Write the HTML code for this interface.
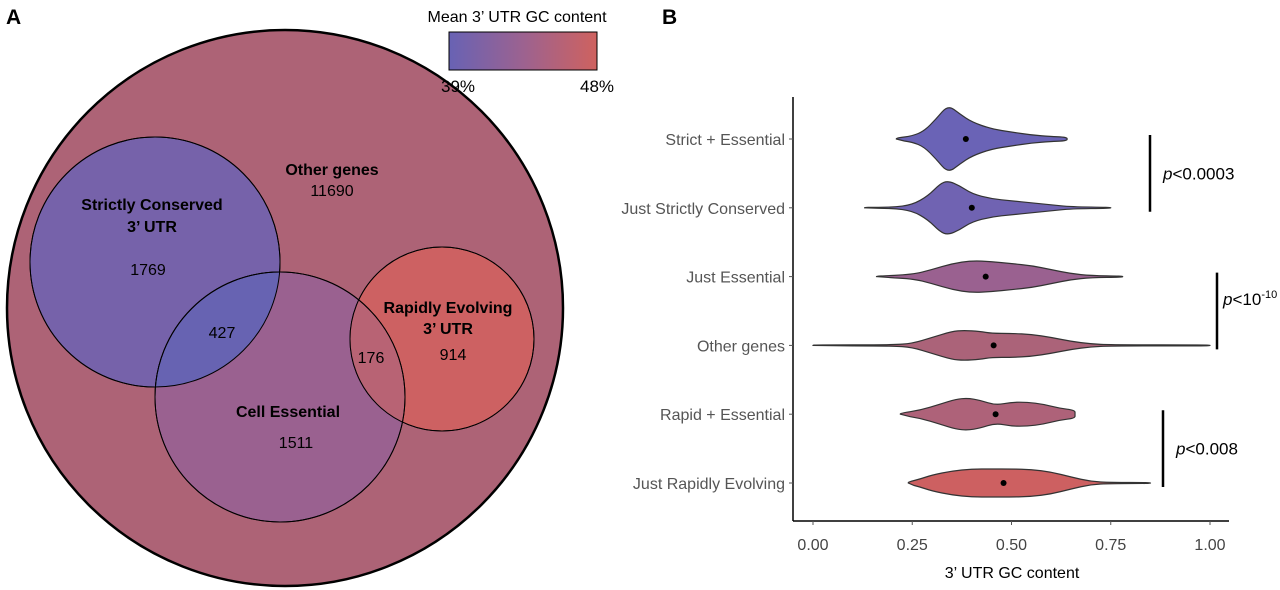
<!DOCTYPE html>
<html><head><meta charset="utf-8"><style>
body{margin:0;background:#fff;}
svg{display:block;font-family:"Liberation Sans",Arial,sans-serif;}
</style></head><body>
<svg id="fig" width="1280" height="590" viewBox="0 0 1280 590">
<defs>
<linearGradient id="grad" x1="0" x2="1" y1="0" y2="0"><stop offset="0" stop-color="#6862b4"/><stop offset="0.5" stop-color="#9c6290"/><stop offset="1" stop-color="#cf625f"/></linearGradient>
<clipPath id="cStrict"><circle cx="155" cy="262" r="125"/></clipPath>
<clipPath id="cRapid"><circle cx="442" cy="339" r="92"/></clipPath>
</defs>
<g>
<text x="6" y="24" font-size="21" font-weight="bold">A</text>
<circle cx="285" cy="308" r="278" fill="#ad6376" stroke="#000" stroke-width="2.5"/>
<circle cx="155" cy="262" r="125" fill="#7662aa" stroke="#000" stroke-width="1"/>
<circle cx="280" cy="397" r="125" fill="#9a6190" stroke="#000" stroke-width="1"/>
<circle cx="442" cy="339" r="92" fill="#cd6162" stroke="#000" stroke-width="1"/>
<circle cx="280" cy="397" r="125" fill="#6763b2" clip-path="url(#cStrict)" stroke="#000" stroke-width="1"/>
<circle cx="280" cy="397" r="125" fill="#b86374" clip-path="url(#cRapid)" stroke="#000" stroke-width="1"/>
<circle cx="155" cy="262" r="125" fill="none" stroke="#000" stroke-width="1"/>
<circle cx="442" cy="339" r="92" fill="none" stroke="#000" stroke-width="1"/>
<circle cx="280" cy="397" r="125" fill="none" stroke="#000" stroke-width="1"/>
<g font-size="16" text-anchor="middle">
<text x="332" y="175" font-weight="bold">Other genes</text>
<text x="332" y="196">11690</text>
<text x="152" y="210" font-weight="bold">Strictly Conserved</text>
<text x="152" y="232" font-weight="bold">3’ UTR</text>
<text x="148" y="275">1769</text>
<text x="222" y="338">427</text>
<text x="448" y="313" font-weight="bold">Rapidly Evolving</text>
<text x="448" y="334" font-weight="bold">3’ UTR</text>
<text x="453" y="360">914</text>
<text x="371" y="363">176</text>
<text x="288" y="417" font-weight="bold">Cell Essential</text>
<text x="296" y="448">1511</text>
</g>
<g>
<text x="517" y="22" font-size="16" text-anchor="middle">Mean 3’ UTR GC content</text>
<rect x="449" y="32" width="148" height="38" fill="url(#grad)" stroke="#000" stroke-width="1"/>
<text x="458" y="92" font-size="17" text-anchor="middle">39%</text>
<text x="597" y="92" font-size="17" text-anchor="middle">48%</text>
</g>
</g>
<g id="panelB">
<text x="662" y="24" font-size="21" font-weight="bold">B</text>
</g>
</svg>
<script>
const categories = ["Strict + Essential","Just Strictly Conserved","Just Essential","Other genes","Rapid + Essential","Just Rapidly Evolving"];
const means = [0.385,0.40,0.435,0.455,0.46,0.48];
const colors = ["#6a63b6","#7063b2","#9a6190","#ab6379","#ae6279","#cd6061"];
const densX = [
 [0.21,0.25,0.28,0.31,0.34,0.37,0.40,0.45,0.50,0.55,0.60,0.63,0.64],
 [0.13,0.20,0.25,0.29,0.32,0.34,0.37,0.40,0.45,0.50,0.55,0.60,0.65,0.75],
 [0.16,0.25,0.30,0.35,0.40,0.45,0.50,0.55,0.60,0.65,0.70,0.78],
 [0.00,0.20,0.25,0.30,0.35,0.38,0.42,0.45,0.50,0.55,0.60,0.65,0.70,0.75,1.00],
 [0.22,0.27,0.32,0.36,0.39,0.42,0.46,0.50,0.54,0.58,0.62,0.66],
 [0.24,0.27,0.30,0.35,0.40,0.45,0.50,0.55,0.60,0.65,0.70,0.75,0.85]
];
const densY = [
 [1,3,8,20,34,25,17,10,7,4,2.5,2,1],
 [0.5,0.5,3,12,24,27,22,14,9,7,5,3,1,0.5],
 [0.5,2,7,13,16,15,13,11,7,3,1,0.5],
 [0.5,0.5,2,8,14,15,14,12,12,11,8,4,1.5,0.5,0.5],
 [1,4,10,15,16,14,9,12,12,10,6,4],
 [1,4,8,12,14,14,14,13.5,11,6,1.5,0.5,0.5]
];
const ticks = [0,0.25,0.5,0.75,1.0];
const tickLabels = ["0.00","0.25","0.50","0.75","1.00"];
const pvals = [{from:0,to:1,x:1150,label:"0.0003",sup:""},{from:2,to:3,x:1217,label:"10",sup:"-10"},{from:4,to:5,x:1163,label:"0.008",sup:""}];

const NS="http://www.w3.org/2000/svg";
const g=document.getElementById('panelB');
const xs=v=>813+v*397;
const ys=i=>139+i*68.8;
function mk(t,a,p){const e=document.createElementNS(NS,t);for(const k in a)e.setAttribute(k,a[k]);(p||g).appendChild(e);return e;}
// axes
const ax=mk('line',{x1:793,y1:97,x2:793,y2:521,stroke:'#000','stroke-width':1.5});


const bx=mk('line',{x1:793,y1:521,x2:1229,y2:521,stroke:'#000','stroke-width':1.5});


ticks.forEach((t,i)=>{
 mk('line',{x1:xs(t),y1:521,x2:xs(t),y2:525,stroke:'#555'});
 const tl=mk('text',{x:xs(t),y:550,'font-size':16,'text-anchor':'middle',fill:'#444'});
 tl.textContent=tickLabels[i];
 
 
});
const xt=mk('text',{x:1012,y:578,'font-size':16,'text-anchor':'middle'});
xt.textContent="3’ UTR GC content";


categories.forEach((c,i)=>{
 const y=ys(i);
 mk('line',{x1:789,y1:y,x2:793,y2:y,stroke:'#555'});
 const l=mk('text',{x:785,y:y+6,'font-size':16,'text-anchor':'end',fill:'#555'});
 l.textContent=c;
 
 
 let top=[],bot=[];
 densX[i].forEach((v,j)=>{top.push([xs(v),y-densY[i][j]]);bot.push([xs(v),y+densY[i][j]]);});
 let pts=top.concat(bot.reverse());
 // smooth path via catmull-rom-ish quadratic midpoints
 let d='M'+top[0][0]+','+y;
 const path=top.concat(bot);
 d='M'+xs(densX[i][0])+','+y;
 const seq=[[xs(densX[i][0]),y]].concat(top.slice(0)).concat([[xs(densX[i][densX[i].length-1]),y]]).concat(bot);
 for(let k=1;k<seq.length;k++){const mx=(seq[k-1][0]+seq[k][0])/2,my=(seq[k-1][1]+seq[k][1])/2;d+=' Q'+seq[k-1][0]+','+seq[k-1][1]+' '+mx+','+my;}
 d+=' Z';
 const v=mk('path',{d:d,fill:colors[i],stroke:'#333','stroke-width':1.2});
 
 
 const m=mk('circle',{cx:xs(means[i]),cy:y,r:3,fill:'#000'});
 
 
});
pvals.forEach(p=>{
 const y1=ys(p.from)-4,y2=ys(p.to)+4;
 const b=mk('line',{x1:p.x,y1:y1,x2:p.x,y2:y2,stroke:'#000','stroke-width':2.5});
 
 
 const t=mk('text',{x:p.x+(p.sup?6:13),y:(y1+y2)/2+(p.sup?-6:6),'font-size':17});
 
 
 const it=document.createElementNS(NS,'tspan');it.setAttribute('font-style','italic');it.textContent='p';t.appendChild(it);
 const r=document.createElementNS(NS,'tspan');r.textContent='<'+p.label;t.appendChild(r);
 if(p.sup){const s=document.createElementNS(NS,'tspan');s.setAttribute('font-size','11');s.setAttribute('dy','-7');s.textContent=p.sup;t.appendChild(s);}
});
</script>
</body></html>
